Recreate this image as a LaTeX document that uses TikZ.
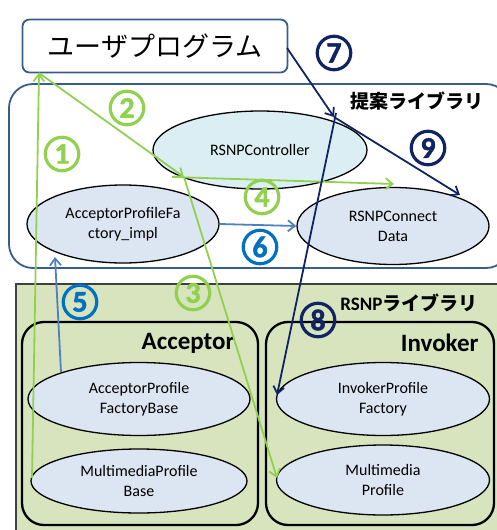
\documentclass[tikz,border=0pt]{standalone}
\usepackage{fontspec}
\setmainfont{Carlito}
\newfontfamily\jp{Noto Sans CJK JP}
\newfontfamily\numfont[FakeBold=1.6]{Carlito Bold}
\usetikzlibrary{arrows.meta,shapes.geometric}
\definecolor{grn}{HTML}{92D050}
\definecolor{bluedig}{HTML}{0070C0}
\definecolor{navy}{RGB}{16,36,100}
\definecolor{steel}{HTML}{4F81BD}
\definecolor{boxblue}{RGB}{56,93,138}
\definecolor{ctrlfill}{HTML}{DAEEF3}
\definecolor{elfill}{HTML}{DCE6F2}
\definecolor{libfill}{HTML}{D7E4BD}
\tikzset{
  el/.style={ellipse, draw=black, line width=1.3pt, fill=elfill, inner sep=0pt, align=center,
    font=\fontsize{16}{20}\selectfont},
  num/.style={circle, draw=#1, text=#1, line width=3.2pt, minimum size=33.5pt, inner sep=0pt,
    font=\numfont\fontsize{30}{30}\selectfont},
  sub/.style={draw=black, line width=2.3pt, rounded corners=22pt},
  arr/.style={line width=1.8pt, -{Straight Barb[length=7pt,width=11pt,line width=1.8pt]}},
}
\begin{document}
\begin{tikzpicture}[x=1pt,y=-1pt]
\useasboundingbox (0,0) rectangle (497,530);
\clip (0,0) rectangle (497,530);
% library boxes
\draw[boxblue, line width=1.8pt, rounded corners=24pt] (9,84) rectangle (510,268);
\node[font=\jp\bfseries\fontsize{19}{19}\selectfont] (lab1) at (417,101) {提案ライブラリ};
\draw[fill=libfill, draw=black!75, line width=1.3pt] (16,284) rectangle (510,540);
\node[font=\fontsize{19}{19}\selectfont] (lab2) at (409,303) {\textbf{RSNP}{\jp\bfseries ライブラリ}};
\draw[sub] (22,322) rectangle (258,525);
\draw[sub] (266,322) rectangle (494,525);
\node[anchor=east, font=\bfseries\fontsize{25}{25}\selectfont] (acc) at (238,343) {Acceptor};
\node[anchor=east, font=\bfseries\fontsize{25}{25}\selectfont] (inv) at (482,343) {Invoker};
% user program
\node[draw=boxblue, line width=1.8pt, rounded corners=7pt, minimum width=265pt, minimum height=53pt,
  font=\jp\fontsize{27}{27}\selectfont] (user) at (155,46) {ユーザプログラム};
% ellipses
\node[el, fill=ctrlfill, minimum width=214pt, minimum height=78pt] (ctrl) at (260,150) {RSNPController};
\node[el, minimum width=192pt, minimum height=78pt] (impl) at (123,224) {AcceptorProfileFa\\ctory\_impl};
\node[el, minimum width=192pt, minimum height=77pt] (cd) at (393,226) {RSNPConnect\\Data};
\node[el, minimum width=222pt, minimum height=73pt] (apfb) at (139,399) {AcceptorProfile\\FactoryBase};
\node[el, minimum width=216pt, minimum height=64pt] (mpb) at (139,481) {MultimediaProfile\\Base};
\node[el, minimum width=213pt, minimum height=73pt] (ipf) at (383,399) {InvokerProfile\\Factory};
\node[el, minimum width=213pt, minimum height=70pt] (mp) at (383,480) {Multimedia\\Profile};
% connector points
\coordinate (u1) at (39,73);
\coordinate (j) at (184,177);
\coordinate (j4) at (172,177);
\coordinate (c4) at (394,184);
\coordinate (t3) at (277,478);
\coordinate (s5) at (61,372);
\coordinate (t5) at (55,257);
\coordinate (u7) at (287,48);
\coordinate (k) at (334,117);
\coordinate (k8) at (336,113);
\coordinate (t8) at (277,395);
\coordinate (t9) at (460,195);
\coordinate (s1) at (32,478);
% arrows
\draw[arr, grn] (s1) -- (u1);
\draw[arr, grn] (u1) -- (j);
\draw[arr, grn] (j) -- (t3);
\draw[arr, grn] (j4) -- (c4);
\draw[arr, steel] (s5) -- (t5);
\draw[arr, steel] (impl.east) -- (cd.west);
\draw[arr, navy] (u7) -- (k);
\draw[arr, navy] (k) -- (t9);
\draw[arr, navy] (k8) -- (t8);
% numbers
\node[num=grn] (n1) at (62,154) {1};
\node[num=grn] (n2) at (127,108) {2};
\node[num=grn] (n3) at (193,293) {3};
\node[num=grn] (n4) at (262,197) {4};
\node[num=bluedig] (n5) at (80,302) {5};
\node[num=bluedig] (n6) at (260,247) {6};
\node[num=navy] (n7) at (334,53) {7};
\node[num=navy] (n8) at (318,320) {8};
\node[num=navy] (n9) at (428,148) {9};
\end{tikzpicture}
\end{document}
